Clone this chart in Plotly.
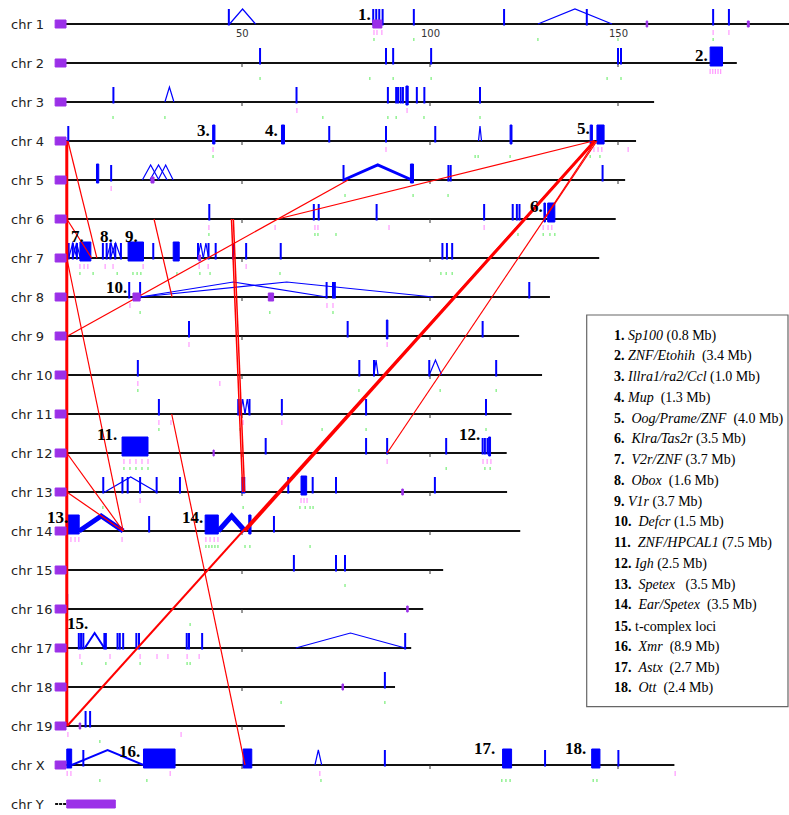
import plotly.graph_objects as go

# ---------------- data (positions in Mb) ----------------
CHROMS = ["chr 1", "chr 2", "chr 3", "chr 4", "chr 5", "chr 6", "chr 7", "chr 8", "chr 9", "chr 10",
          "chr 11", "chr 12", "chr 13", "chr 14", "chr 15", "chr 16", "chr 17", "chr 18", "chr 19",
          "chr X", "chr Y"]
CHROM_END_MB = [197.0, 181.6, 159.6, 154.8, 151.9, 149.4, 145.0, 131.9, 123.7, 129.8, 121.7, 120.4,
                120.5, 124.0, 103.5, 98.2, 95.0, 90.7, 61.4, 165.0, 3.2]
CEN_START_MB = 0.3
CEN_END_MB = 3.2
TICK_MB = [50, 100, 150]
TICK_LABELS = ["50", "100", "150"]

# single segmental-duplication loci (chrom index, Mb)
THIN_BARS = [
    (0, 46.5), (0, 84.9), (0, 85.7), (0, 86.5), (0, 87.4), (0, 95.7), (0, 119.7), (0, 141.7), (0, 175.3), (0, 179.5),
    (1, 54.8), (1, 88.3), (1, 90.2), (1, 100.3), (1, 150.0), (1, 150.8),
    (2, 15.8), (2, 64.5), (2, 88.8), (2, 91.0), (2, 91.5), (2, 92.2), (2, 92.8), (2, 96.5), (2, 98.5), (2, 113.3),
    (3, 3.8), (3, 73.2), (3, 88.3), (3, 101.4),
    (4, 15.2), (4, 77.0), (4, 104.9), (4, 105.5), (4, 145.9),
    (5, 41.3), (5, 69.1), (5, 70.4), (5, 85.8), (5, 114.4), (5, 122.0), (5, 123.1), (5, 123.8),
    (6, 3.9), (6, 5.0), (6, 6.1), (6, 13.0), (6, 14.0), (6, 15.0), (6, 16.3), (6, 17.8), (6, 26.4), (6, 38.3),
    (6, 41.1), (6, 43.0), (6, 47.6), (6, 51.1), (6, 60.3), (6, 103.3), (6, 104.5), (6, 105.9),
    (7, 20.0), (7, 22.9), (7, 72.5), (7, 74.2), (7, 74.7), (7, 126.4),
    (8, 35.9), (8, 78.1), (8, 114.0),
    (9, 22.3), (9, 81.2), (9, 85.1), (9, 99.8), (9, 117.6),
    (10, 27.9), (10, 49.0), (10, 49.6), (10, 52.0), (10, 60.6), (10, 83.0), (10, 114.9),
    (11, 56.3), (11, 83.0), (11, 88.6), (11, 104.3), (11, 114.0), (11, 114.6), (11, 115.3),
    (12, 13.1), (12, 18.2), (12, 19.6), (12, 22.9), (12, 27.3), (12, 33.5), (12, 50.1), (12, 50.6), (12, 62.3),
    (12, 68.8), (12, 75.0), (12, 101.3),
    (13, 25.3), (13, 58.5),
    (14, 63.8), (14, 75.0), (14, 77.4),
    (15, 3.5),
    (16, 6.6), (16, 7.2), (16, 7.8), (16, 13.4), (16, 13.8), (16, 16.9), (16, 17.5), (16, 18.4), (16, 21.9),
    (16, 22.6), (16, 35.3), (16, 35.9), (16, 39.4), (16, 93.4),
    (17, 88.0),
    (18, 8.4), (18, 9.6),
    (19, 7.8), (19, 88.0), (19, 130.6), (19, 150.1),
]

# dense clusters (chrom index, start Mb, end Mb)
CLUSTERS = [
    (1, 174.5, 177.8), (2, 93.6, 94.2),
    (3, 42.2, 42.8), (3, 60.5, 61.3), (3, 121.3, 121.8), (3, 142.6, 143.2), (3, 144.4, 146.3),
    (4, 11.3, 11.9), (4, 94.8, 95.6),
    (5, 130.3, 130.7), (5, 131.3, 133.2),
    (6, 6.9, 9.8), (6, 19.7, 23.8), (6, 31.7, 33.3),
    (8, 88.4, 88.8),
    (11, 18.1, 25.0), (11, 115.6, 116.1),
    (12, 65.7, 67.2),
    (13, 3.4, 6.7), (13, 40.2, 43.7), (13, 51.8, 52.4),
    (19, 3.4, 4.7), (19, 23.8, 32.2), (19, 50.3, 52.6), (19, 119.3, 121.7), (19, 143.0, 145.2),
]

# intrachromosomal links (chrom, start Mb, end Mb, number of links)
ARCS = [
    (0, 46.7, 53.6, 1), (0, 128.7, 148.4, 1),
    (2, 29.5, 31.9, 1),
    (3, 112.9, 113.7, 1),
    (4, 23.5, 27.9, 1), (4, 25.5, 30.1, 1), (4, 27.7, 31.7, 1), (4, 77.0, 95.2, 3),
    (6, 3.9, 6.1, 1), (6, 5.0, 7.0, 1), (6, 14.0, 16.3, 1), (6, 15.0, 17.8, 1), (6, 38.3, 39.7, 1), (6, 39.7, 41.1, 1),
    (7, 22.9, 72.5, 1), (7, 22.9, 100.9, 1),
    (9, 85.1, 86.2, 1), (9, 99.8, 103.1, 1),
    (10, 49.6, 50.8, 1), (10, 50.8, 52.0, 1),
    (12, 13.5, 27.3, 1),
    (13, 6.7, 18.4, 5), (13, 43.7, 50.8, 5),
    (16, 8.2, 13.4, 2), (16, 64.3, 93.4, 1),
    (19, 4.7, 23.8, 2), (19, 69.4, 71.2, 1),
]

# interchromosomal links (chrom A, Mb A, chrom B, Mb B, number of links)
LINKS = [
    (3, 3.4, 18, 3.4, 3),
    (3, 3.7, 6, 11.4, 1),
    (5, 3.4, 6, 10.0, 1),
    (6, 3.4, 13, 18.4, 1),
    (11, 3.4, 13, 18.4, 1),
    (12, 3.4, 13, 18.4, 1),
    (8, 3.6, 4, 78.2, 1),
    (5, 59.5, 3, 143.4, 1),
    (3, 144.0, 5, 130.3, 1),
    (3, 143.8, 13, 50.8, 3),
    (3, 143.8, 18, 3.5, 2),
    (3, 144.4, 11, 88.6, 1),
    (5, 47.2, 12, 50.2, 1.5),
    (5, 47.7, 12, 50.7, 1.5),
    (5, 26.6, 7, 31.4, 1),
    (10, 31.3, 19, 50.8, 1),
]

# purple marks on chromosomes (chrom, start Mb, end Mb)
PURPLE_MARKS = [
    (0, 84.8, 87.2), (0, 157.5, 157.9), (0, 184.4, 184.9), (4, 25.8, 26.6), (6, 38.5, 39.0),
    (7, 21.0, 22.9), (7, 57.0, 58.4), (11, 42.3, 42.6), (12, 92.5, 92.9), (15, 93.8, 94.2),
    (17, 76.6, 77.0), (18, 6.7, 7.1), (20, 3.4, 16.3),
]

PINK_TICKS = [
    (0, 85.1), (0, 85.9), (0, 87.2), (0, 175.3), (0, 179.5),
    (1, 174.5), (1, 175.2), (1, 175.9), (1, 176.6), (1, 177.3),
    (2, 64.6), (2, 93.9),
    (3, 42.3), (3, 88.3), (3, 142.6), (3, 143.6), (3, 144.7), (3, 145.7), (3, 152.7),
    (4, 15.2),
    (5, 41.2), (5, 47.3), (5, 58.8), (5, 69.4), (5, 70.2), (5, 89.1), (5, 114.4), (5, 130.1), (5, 131.4), (5, 132.4),
    (6, 6.9), (6, 8.0), (6, 9.0), (6, 13.6), (6, 15.7), (6, 23.7), (6, 38.6), (6, 41.0), (6, 51.1),
    (7, 20.2), (7, 72.6), (7, 74.2),
    (8, 35.9), (8, 88.6),
    (9, 22.3), (9, 44.1),
    (10, 27.9), (10, 31.1), (10, 50.3), (10, 60.6),
    (11, 18.6), (11, 20.2), (11, 21.8), (11, 23.4), (11, 25.0), (11, 88.6), (11, 114.1), (11, 115.2), (11, 116.2),
    (12, 22.9), (12, 65.7), (12, 66.5), (12, 67.3),
    (13, 3.5), (13, 4.5), (13, 5.6), (13, 6.6), (13, 18.1), (13, 40.4), (13, 41.5), (13, 42.6), (13, 43.6),
    (16, 6.9), (16, 14.9), (16, 22.9), (16, 27.4), (16, 30.3), (16, 35.4), (16, 38.6),
    (18, 3.7), (18, 33.8),
    (19, 3.5), (19, 4.5), (19, 30.9), (19, 70.7), (19, 165.2),
]

GREEN_TICKS = [
    (0, 85.1), (0, 95.7), (0, 128.7), (0, 150.0), (0, 175.3),
    (1, 54.8), (1, 84.0), (1, 90.2), (1, 100.3), (1, 147.1), (1, 150.8),
    (2, 15.7), (2, 29.5), (2, 71.5), (2, 88.8), (2, 91.0), (2, 98.4), (2, 113.3),
    (3, 42.3), (3, 112.0), (3, 112.8), (3, 121.3), (3, 142.6), (3, 145.2),
    (4, 77.4), (4, 95.5), (4, 104.8),
    (5, 41.2), (5, 69.4), (5, 70.2), (5, 75.0), (5, 123.4), (5, 130.1), (5, 131.9), (5, 133.2),
    (6, 6.9), (6, 10.4), (6, 16.8), (6, 21.0), (6, 22.1), (6, 23.1), (6, 32.7), (6, 38.8), (6, 41.5), (6, 60.1),
    (6, 102.9), (6, 104.3), (6, 105.9),
    (7, 22.9), (7, 57.4), (7, 74.2),
    (9, 22.3), (9, 81.1), (9, 102.7), (9, 117.6),
    (10, 27.9), (10, 49.5), (10, 71.3), (10, 83.0), (10, 114.9),
    (11, 18.6), (11, 20.2), (11, 21.8), (11, 23.4), (11, 25.0), (11, 104.3), (11, 114.6), (11, 116.0),
    (12, 13.0), (12, 50.3), (12, 65.4), (12, 66.8), (12, 68.1), (12, 68.9),
    (13, 40.4), (13, 41.2), (13, 42.0), (13, 42.8), (13, 43.6), (13, 50.8), (13, 52.1), (13, 68.1),
    (14, 77.4),
    (15, 36.2),
    (16, 7.4), (16, 13.8), (16, 22.9), (16, 35.4), (16, 36.2),
    (17, 60.4), (17, 88.0),
    (18, 12.2),
    (19, 12.2), (19, 24.7), (19, 71.0), (19, 119.1), (19, 120.2), (19, 121.3), (19, 143.4), (19, 144.4),
]

# numbered cluster labels: (text, chrom, right edge Mb)
CLUSTER_LABELS = [
    ("1.", 0, 84.8), ("2.", 1, 174.5), ("3.", 3, 42.0), ("4.", 3, 60.1), ("5.", 3, 143.1), ("6.", 5, 130.6),
    ("7.", 6, 8.5), ("8.", 6, 16.2), ("9.", 6, 22.9), ("10.", 7, 19.9), ("11.", 11, 17.3), ("12.", 11, 113.8),
    ("13.", 13, 4.3), ("14.", 13, 40.2), ("15.", 16, 9.6), ("16.", 19, 23.4), ("17.", 19, 117.8), ("18.", 19, 142.0),
]
CLUSTER_LABEL_RISE_PX = [10, 8, 11, 11, 13, 13, 22, 22, 22, 10, 19, 19, 14, 14, 25, 14, 17, 17]

LEGEND_NUM = ["1.", "2.", "3.", "4.", "5.", "6.", "7.", "8.", "9.", "10.", "11.", "12.", "13.", "14.",
              "15.", "16.", "17.", "18."]
LEGEND_NAME = ["Sp100", "ZNF/Etohih", "Illra1/ra2/Ccl", "Mup", "Oog/Prame/ZNF", "Klra/Tas2r", "V2r/ZNF",
               "Obox", "V1r", "Defcr", "ZNF/HPCAL1", "Igh", "Spetex", "Ear/Spetex", "t-complex loci",
               "Xmr", "Astx", "Ott"]
LEGEND_SIZE = ["(0.8 Mb)", "(3.4 Mb)", "(1.0 Mb)", "(1.3 Mb)", "(4.0 Mb)", "(3.5 Mb)", "(3.7 Mb)",
               "(1.6 Mb)", "(3.7 Mb)", "(1.5 Mb)", "(7.5 Mb)", "(2.5 Mb)", "(3.5 Mb)", "(3.5 Mb)", "",
               "(8.9 Mb)", "(2.7 Mb)", "(2.4 Mb)"]
LEGEND_ITALIC = [True] * 14 + [False] + [True] * 3
# spaces after number / after name, as typeset in the original legend
LEGEND_GAP1 = [1, 1, 1, 1, 2, 2, 2, 2, 1, 2, 2, 1, 2, 2, 1, 2, 2, 2]
LEGEND_GAP2 = [1, 2, 1, 2, 2, 1, 1, 2, 1, 1, 1, 1, 3, 2, 1, 2, 2, 2]

# ---------------- layout constants ----------------
W, H = 789, 815
PX_PER_MB = 3.76
X0_PX = 54
ROW_PX = 39.0
ROW0_PX = 24

BLUE = "#0000ff"
RED = "#ff0000"
PURPLE = "#9b30e8"
PINK = "#ff99ff"
GREEN = "#77ee77"
BLACK = "#111111"


def ry(px):
    return px / ROW_PX


def mx(px):
    return px / PX_PER_MB


shapes = []


def add_line(x0, y0, x1, y1, color, width, dash=None):
    ln = dict(color=color, width=width)
    if dash:
        ln["dash"] = dash
    shapes.append(dict(type="line", xref="x", yref="y", x0=x0, y0=y0, x1=x1, y1=y1, line=ln))


def add_rect(x0, x1, y0, y1, color):
    shapes.append(dict(type="rect", xref="x", yref="y", x0=x0, x1=x1, y0=y0, y1=y1,
                       fillcolor=color, line=dict(color=color, width=1)))


# chromosome backbones + ticks
for i, name in enumerate(CHROMS):
    end = CHROM_END_MB[i]
    if name == "chr Y":
        add_line(CEN_START_MB, i, end, i, BLACK, 2, dash="3px,1px")
        continue
    add_line(CEN_END_MB, i, end, i, BLACK, 2.2)
    if i > 0:
        for t in TICK_MB:
            if t < end:
                add_line(t, i, t, i + ry(4), "#333333", 1)

# pink / green small marks
for c, p in PINK_TICKS:
    add_line(p, c + ry(6), p, c + ry(11), PINK, 1.2)
for c, p in GREEN_TICKS:
    add_line(p, c + ry(14), p, c + ry(17), GREEN, 1.2)

# blue arcs
for c, a, b, n in ARCS:
    m = (a + b) / 2
    shapes.append(dict(type="path", xref="x", yref="y",
                       path=f"M {a},{c} L {m},{c - ry(15)} L {b},{c}",
                       line=dict(color=BLUE, width=1.2 if n == 1 else n)))

# blue bars
for c, p in THIN_BARS:
    add_line(p, c + ry(1.5), p, c - ry(15), BLUE, 2)
for c, a, b in CLUSTERS:
    add_rect(a, b, c - ry(16), c + ry(3), BLUE)

# red interchromosomal links
for ca, pa, cb, pb, n in LINKS:
    add_line(pa, ca, pb, cb, RED, 1.2 if n == 1 else n)

# centromeres & purple marks
for i, name in enumerate(CHROMS):
    if name != "chr Y":
        add_rect(CEN_START_MB, CEN_END_MB, i - ry(4), i + ry(4), PURPLE)
for c, a, b in PURPLE_MARKS:
    h = 4 if (b - a) > 1 else 3
    add_rect(a, b, c - ry(h), c + ry(h), PURPLE)

annotations = []
# chromosome names
for i, name in enumerate(CHROMS):
    annotations.append(dict(x=mx(9 - X0_PX), y=i, xref="x", yref="y", text=name, showarrow=False,
                            xanchor="left", yanchor="middle",
                            font=dict(family="DejaVu Sans", size=13, color="#222222")))
# axis labels on chr 1
for t, lab in zip(TICK_MB, TICK_LABELS):
    annotations.append(dict(x=t, y=0 + ry(9), xref="x", yref="y", text=lab, showarrow=False,
                            xanchor="center", yanchor="middle",
                            font=dict(family="DejaVu Sans", size=10, color="#333333")))
# cluster numbers
for (txt, c, xr), rise in zip(CLUSTER_LABELS, CLUSTER_LABEL_RISE_PX):
    annotations.append(dict(x=xr, y=c - ry(rise), xref="x", yref="y", text=f"<b>{txt}</b>",
                            showarrow=False, xanchor="right", yanchor="middle",
                            font=dict(family="Liberation Serif", size=17, color="black")))

# legend box
LEG_X0, LEG_X1, LEG_Y0, LEG_Y1 = 586.7, 788.0, 315.0, 706.7
shapes.append(dict(type="rect", xref="paper", yref="paper",
                   x0=LEG_X0 / W, x1=LEG_X1 / W, y0=1 - LEG_Y1 / H, y1=1 - LEG_Y0 / H,
                   line=dict(color="#666666", width=1.2), fillcolor="rgba(255,255,255,0)"))
for k, (num, nm, sz, it) in enumerate(zip(LEGEND_NUM, LEGEND_NAME, LEGEND_SIZE, LEGEND_ITALIC)):
    name_txt = f"<i>{nm}</i>" if it else nm
    g1 = "&nbsp;" * LEGEND_GAP1[k]
    g2 = "&nbsp;" * LEGEND_GAP2[k] if sz else ""
    txt = f"<b>{num}</b>{g1}{name_txt}{g2}{sz}"
    yy = 335.5 + k * 20.75
    annotations.append(dict(x=612 / W, y=1 - yy / H, xref="paper", yref="paper", text=txt,
                            showarrow=False, xanchor="left", yanchor="middle",
                            font=dict(family="Liberation Serif", size=14, color="black")))

fig = go.Figure()
fig.update_layout(
    width=W, height=H,
    margin=dict(l=0, r=0, t=0, b=0),
    paper_bgcolor="white", plot_bgcolor="white",
    xaxis=dict(range=[mx(0 - X0_PX), mx(W - X0_PX)], visible=False, fixedrange=True),
    yaxis=dict(range=[ry(H - ROW0_PX), ry(0 - ROW0_PX)], visible=False, fixedrange=True),
    shapes=shapes, annotations=annotations, showlegend=False,
)
fig.write_html("out.html", config={"displayModeBar": False},
               post_script="document.body.style.margin='0';document.body.style.padding='0';"
                           "document.body.style.overflow='hidden';")
